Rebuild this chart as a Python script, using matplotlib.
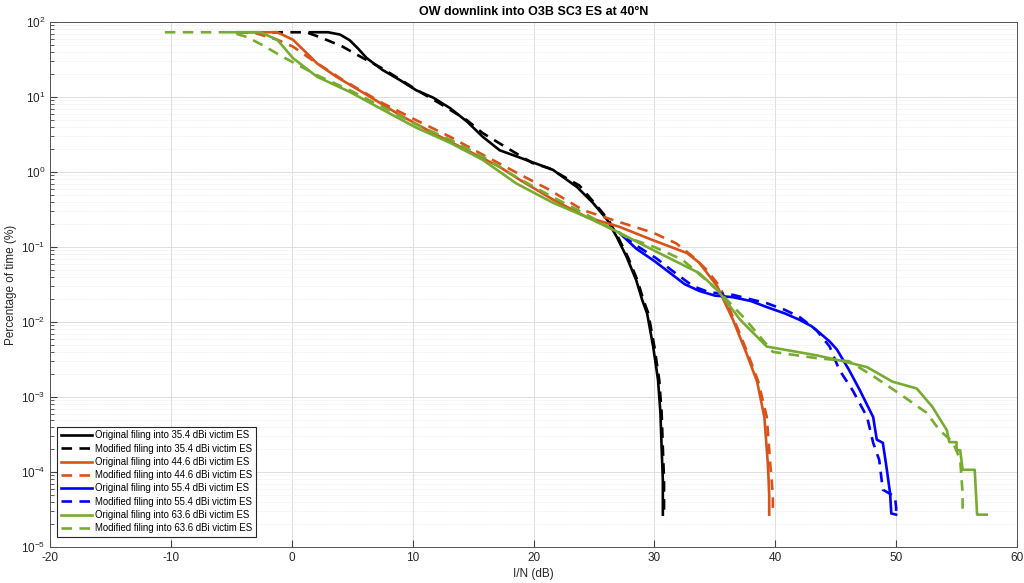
import matplotlib
matplotlib.use("Agg")
import matplotlib.pyplot as plt
from matplotlib.ticker import LogLocator, NullFormatter, FixedLocator

plt.rcParams['font.family'] = ['Liberation Sans', 'DejaVu Sans']
plt.rcParams['axes.unicode_minus'] = False

title = "OW downlink into O3B SC3 ES at 40\u00b0N"
xlabel = "I/N (dB)"
ylabel = "Percentage of time (%)"

labels = [
    "Original filing into 35.4 dBi victim ES",
    "Modified filing into 35.4 dBi victim ES",
    "Original filing into 44.6 dBi victim ES",
    "Modified filing into 44.6 dBi victim ES",
    "Original filing into 55.4 dBi victim ES",
    "Modified filing into 55.4 dBi victim ES",
    "Original filing into 63.6 dBi victim ES",
    "Modified filing into 63.6 dBi victim ES",
]

# 35.4 dBi
black_orig_x = [1.5, 3.0, 4.0, 4.8, 5.5, 6.2, 7.5, 8.9, 10.3, 11.7, 13.1, 14.5, 15.8, 17.2, 18.9, 21.6,
                23.6, 24.9, 26.1, 26.9, 27.7, 28.5, 29.0, 29.4, 29.9, 30.3, 30.5, 30.6, 30.7, 30.7]
black_orig_y = [73, 73, 68, 57, 44, 33, 23, 17, 12.3, 9.8, 7.1, 4.7, 2.95, 1.95, 1.55, 1.07,
                0.63, 0.39, 0.23, 0.135, 0.074, 0.036, 0.0195, 0.013, 0.0047, 0.0017, 6.2e-4, 2.1e-4, 7.8e-5, 2.7e-5]
black_mod_x = [-1.6, 1.2, 2.3, 3.2, 4.2, 5.9, 7.5, 9.0, 10.8, 12.2, 14.5, 15.8, 17.8, 19.9, 21.3,
               23.8, 25.2, 26.2, 27.0, 27.8, 28.6, 29.1, 29.5, 30.0, 30.4, 30.6, 30.7, 30.8, 30.8]
black_mod_y = [73, 73, 63, 55, 47, 33, 24, 17, 11.2, 8.3, 4.9, 3.3, 2.1, 1.32, 1.12,
               0.66, 0.36, 0.23, 0.135, 0.074, 0.036, 0.0195, 0.013, 0.0047, 0.0017, 6.2e-4, 2.1e-4, 7.8e-5, 2.7e-5]

# 44.6 dBi
orange_orig_x = [-4.5, -1.2, 0.1, 1.2, 2.1, 3.7, 6.2, 8.9, 11.7, 14.5, 17.2, 18.9, 21.6, 24.4, 27.1,
                 29.9, 32.7, 33.7, 35.2, 36.5, 37.6, 38.5, 39.1, 39.4, 39.5, 39.5]
orange_orig_y = [73, 73, 58, 39, 28, 18.6, 10.7, 5.8, 3.3, 1.95, 1.17, 0.78, 0.43, 0.25, 0.186,
                 0.123, 0.083, 0.062, 0.030, 0.0107, 0.0039, 0.0016, 5.4e-4, 1.2e-4, 5e-5, 2.7e-5]
orange_mod_x = [-4.5, -3.0, -1.2, 0.1, 1.7, 4.2, 7.5, 10.3, 13.1, 15.8, 18.6, 21.3, 24.1, 27.1, 29.9,
                31.8, 33.2, 34.3, 35.4, 36.6, 37.7, 38.6, 39.3, 39.6, 39.8, 39.8]
orange_mod_y = [73, 71, 58, 47, 31, 17, 8.3, 4.9, 2.95, 1.7, 0.98, 0.58, 0.31, 0.215, 0.155,
                0.112, 0.074, 0.05, 0.030, 0.0107, 0.0039, 0.0016, 5.4e-4, 1.2e-4, 5e-5, 2.7e-5]

# 55.4 dBi
blue_orig_x = [27.1, 28.5, 30.0, 31.3, 32.5, 33.7, 35.0, 36.5, 38.0, 39.3, 40.8, 42.0, 43.0, 43.7, 44.5,
               45.1, 46.1, 47.0, 48.1, 48.4, 48.9, 49.2, 49.5, 49.6, 50.0]
blue_orig_y = [0.155, 0.095, 0.065, 0.045, 0.032, 0.026, 0.0225, 0.0214, 0.019, 0.0158, 0.013, 0.0107,
               0.0088, 0.0071, 0.0055, 0.0043, 0.0023, 0.00123, 5.4e-4, 2.7e-4, 2.45e-4, 1.17e-4, 5.2e-5, 2.8e-5, 2.7e-5]
blue_mod_x = [27.4, 28.7, 30.2, 31.5, 33.2, 34.5, 36.5, 38.0, 39.3, 40.8, 42.0, 43.4, 44.5, 45.3, 46.4,
              47.6, 48.1, 48.6, 48.9, 49.9, 50.0, 50.0]
blue_mod_y = [0.14, 0.1, 0.07, 0.048, 0.030, 0.025, 0.023, 0.020, 0.0178, 0.0145, 0.0117, 0.0078, 0.0047,
              0.0023, 0.00123, 5.4e-4, 2.45e-4, 1.45e-4, 5.8e-5, 4.7e-5, 3.4e-5, 2.7e-5]

# 63.6 dBi
green_orig_x = [-5.1, -2.6, -1.2, 0.1, 2.1, 4.8, 7.5, 10.3, 13.1, 15.8, 18.6, 21.6, 24.4, 27.1, 29.9,
                33.7, 35.2, 37.1, 39.3, 43.4, 45.6, 47.6, 49.7, 51.7, 53.0, 54.2, 54.4, 55.0, 55.0, 55.3,
                55.5, 56.5, 56.7, 57.5]
green_orig_y = [73, 73, 58, 33, 18.6, 11.7, 6.8, 3.9, 2.45, 1.45, 0.7, 0.39, 0.25, 0.155, 0.091,
                0.045, 0.027, 0.0107, 0.0047, 0.0036, 0.0030, 0.0025, 0.0016, 0.0013, 7.4e-4, 3.6e-4,
                2.5e-4, 2.5e-4, 1.95e-4, 1.95e-4, 1.07e-4, 1.07e-4, 2.7e-5, 2.7e-5]
green_mod_x = [-10.5, -5.0, -3.7, -2.4, -0.7, 2.1, 4.8, 7.5, 10.3, 13.1, 15.8, 18.6, 21.3, 24.4, 27.7,
               30.0, 32.3, 34.3, 35.5, 37.5, 39.8, 43.4, 46.1, 48.1, 50.3, 52.5, 53.6, 54.7, 55.3, 55.5, 55.5]
green_mod_y = [73, 73, 63, 49, 34, 19.5, 12.3, 7.4, 4.3, 2.7, 1.6, 0.85, 0.49, 0.27, 0.135,
               0.1, 0.068, 0.036, 0.024, 0.011, 0.004, 0.0033, 0.0030, 0.0019, 0.0011, 6.2e-4, 3.6e-4,
               2.5e-4, 1.45e-4, 5.2e-5, 2.7e-5]

x_ticks = [-20, -10, 0, 10, 20, 30, 40, 50, 60]

series = [
    (black_orig_x, black_orig_y, '#000000', '-'),
    (black_mod_x, black_mod_y, '#000000', '--'),
    (orange_orig_x, orange_orig_y, '#D95319', '-'),
    (orange_mod_x, orange_mod_y, '#D95319', '--'),
    (blue_orig_x, blue_orig_y, '#0000FF', '-'),
    (blue_mod_x, blue_mod_y, '#0000FF', '--'),
    (green_orig_x, green_orig_y, '#77AC30', '-'),
    (green_mod_x, green_mod_y, '#77AC30', '--'),
]

fig = plt.figure(figsize=(10.24, 5.83), dpi=100)
ax = fig.add_axes([50/1024, 1-547/583, 967/1024, 525/583])

for (xs, ys, c, ls), lab in zip(series, labels):
    if ls == '--':
        ax.plot(xs, ys, color=c, lw=1.9, linestyle=(0, (4, 2.8)), label=lab)
    else:
        ax.plot(xs, ys, color=c, lw=1.9, linestyle='-', label=lab)

ax.set_yscale('log')
ax.set_xlim(-20, 60)
ax.set_ylim(1e-5, 1e2)
ax.xaxis.set_major_locator(FixedLocator(x_ticks))
ax.yaxis.set_major_locator(LogLocator(base=10, numticks=20))
ax.yaxis.set_minor_locator(LogLocator(base=10, subs=range(2, 10), numticks=20))
ax.yaxis.set_minor_formatter(NullFormatter())

ax.grid(True, which='major', axis='both', color='#dedede', lw=0.7)
ax.grid(True, which='minor', axis='y', color='#ebebeb', lw=0.6, linestyle=(0, (1, 1)))
ax.set_axisbelow(True)

ax.tick_params(which='both', direction='in', colors='#404040', labelcolor='#262626', labelsize=8.5)
ax.tick_params(which='major', length=5)
ax.tick_params(which='minor', length=3)
for s in ax.spines.values():
    s.set_color('#555555')
    s.set_linewidth(0.7)

ax.set_title(title, fontsize=9, fontweight='bold', pad=5)
ax.set_xlabel(xlabel, fontsize=8.5, color='#262626', labelpad=3)
ax.set_ylabel(ylabel, fontsize=8.5, color='#262626', labelpad=3)

leg = ax.legend(loc='lower left', bbox_to_anchor=(0.007, 0.019), fontsize=6.9, handlelength=3.3,
                handletextpad=0.3, labelspacing=0.34, borderpad=0.4, borderaxespad=0.0,
                fancybox=False, framealpha=1.0, edgecolor='#262626')
leg.get_frame().set_linewidth(0.8)

fig.savefig('out.png', dpi=100)
